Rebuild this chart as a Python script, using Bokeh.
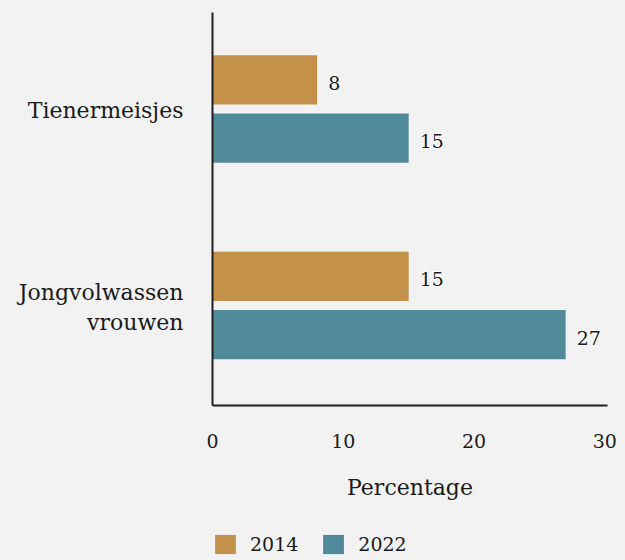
from bokeh.plotting import figure
from bokeh.layouts import column
from bokeh.models import ColumnDataSource, FactorRange, Range1d, Legend, LegendItem, FixedTicker
from bokeh.transform import dodge
from bokeh.embed import file_html
from bokeh.resources import INLINE
from bokeh.core.properties import value

categories = ["Tienermeisjes", "Jongvolwassen\nvrouwen"]
values_2014 = [8, 15]
values_2022 = [15, 27]
series = ["2014", "2022"]
colors = ["#c4914a", "#518b9b"]
x_ticks = [0, 10, 20, 30]
x_label = "Percentage"

FONT = "DejaVu Serif"
FS = "19px"
FSW = "22px"
TXT = "#1a1a1a"
BG = "#f2f2f2"

src = ColumnDataSource(dict(
    cat=categories,
    v2014=values_2014,
    v2022=values_2022,
    l2014=[str(v) for v in values_2014],
    l2022=[str(v) for v in values_2022],
))

p = figure(
    y_range=FactorRange(factors=categories[::-1]),
    x_range=Range1d(0, 30.2),
    frame_width=395, frame_height=393,
    min_border_left=212, min_border_right=18, min_border_top=12, min_border_bottom=120,
    output_backend="svg", toolbar_location=None,
)
p.background_fill_color = BG
p.border_fill_color = BG
p.outline_line_color = None
p.xgrid.visible = False
p.ygrid.visible = False

offs = [0.157, -0.139]
for i, s in enumerate(series):
    yy = dodge("cat", offs[i], range=p.y_range)
    p.hbar(y=yy, left=0, right="v" + s, height=0.25, source=src,
           fill_color=colors[i], line_color=None)
    for dx, dy in [(-1, 0), (1, 0), (0, -1), (0, 1), (-1, -1), (1, 1), (-1, 1), (1, -1)]:
        p.text(x="v" + s, y=yy, text="l" + s, source=src, x_offset=11 + dx, y_offset=3 + dy,
               text_baseline="middle", text_font=value(FONT), text_font_size=FS,
               text_color="white", text_alpha=0.8)
    p.text(x="v" + s, y=yy, text="l" + s, source=src, x_offset=11, y_offset=3,
           text_baseline="middle", text_font=value(FONT), text_font_size=FS, text_color=TXT)

for ax in (p.xaxis, p.yaxis):
    ax.axis_line_color = "#1f1f1f"
    ax.axis_line_width = 2
    ax.major_tick_line_color = None
    ax.minor_tick_line_color = None
    ax.major_label_text_font = FONT
    ax.major_label_text_color = TXT

p.xaxis.major_label_text_font_size = FS
p.yaxis.major_label_text_font_size = FSW
p.xaxis.ticker = FixedTicker(ticks=x_ticks)
p.xaxis.major_label_standoff = 22
p.xaxis.axis_label = x_label
p.xaxis.axis_label_standoff = 24
p.xaxis.axis_label_text_font = FONT
p.xaxis.axis_label_text_font_size = FSW
p.xaxis.axis_label_text_font_style = "normal"
p.xaxis.axis_label_text_color = TXT
p.yaxis.major_label_standoff = 23

# legend strip below the chart, same horizontal geometry as the main plot
lg = figure(
    frame_width=395, frame_height=35,
    x_range=Range1d(0, 30.2), y_range=FactorRange(factors=categories[::-1]),
    min_border_left=212, min_border_right=18, min_border_top=0, min_border_bottom=0,
    output_backend="svg", toolbar_location=None,
)
lg.background_fill_color = BG
lg.border_fill_color = BG
lg.outline_line_color = None
lg.axis.visible = False
lg.grid.visible = False
# zero-height bars: nothing visible in the strip, but they carry the legend swatches
lg_r = [lg.hbar(y="cat", left=0, right="v" + s, height=0, source=src,
                fill_color=colors[i], line_color=None) for i, s in enumerate(series)]

legend = Legend(
    items=[LegendItem(label=s, renderers=[lg_r[i]]) for i, s in enumerate(series)],
    orientation="horizontal", location=(0, 4),
    glyph_width=26, glyph_height=24, label_standoff=12, spacing=22,
    padding=0, margin=0, border_line_color=None, background_fill_alpha=0,
    label_text_font=FONT, label_text_font_size=FS, label_text_color=TXT,
)
lg.add_layout(legend, "center")

layout = column(p, lg, spacing=0)
html = file_html(layout, INLINE)
html = html.replace("</head>", "<style>body{background:#f2f2f2;}</style></head>", 1)
open("out.html", "w").write(html)
